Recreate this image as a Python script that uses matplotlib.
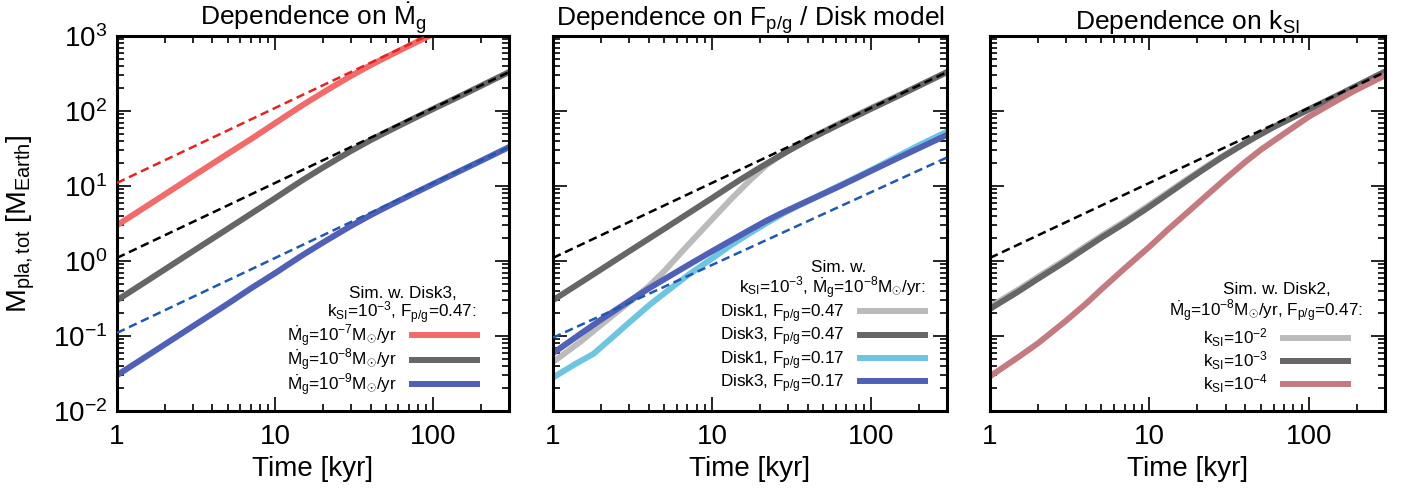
import matplotlib
matplotlib.use("Agg")
import matplotlib.pyplot as plt
from matplotlib.ticker import FuncFormatter

plt.rcParams.update({
    "font.family": "Liberation Sans",
    "mathtext.fontset": "custom",
    "mathtext.rm": "Liberation Sans",
    "mathtext.it": "Liberation Sans",
    "mathtext.sf": "Liberation Sans",
    "mathtext.bf": "Liberation Sans:bold",
    "axes.linewidth": 2.2,
    "lines.solid_joinstyle": "round",
})

# ---- values: Time [kyr] -> M_pla,tot [M_Earth] ----
t_ref = [1, 300]
ref_mdot7 = [11, 3300]
ref_mdot8 = [1.1, 330]
ref_mdot9 = [0.11, 33]
ref_d3_017 = [0.095, 24]

# panel 1: dependence on Mdot_g (Disk3, k_SI=1e-3, F_p/g=0.47)
t_p1 = [1, 1.5, 2, 3, 4, 5, 7, 10, 12, 15, 20, 25, 30, 40, 50, 70, 100, 150, 200, 300]
m_mdot7 = [3.0, 5.2, 7.7, 13.4, 19.8, 26.8, 42, 69, 89, 121, 176, 233, 292, 408, 520, 740, 1070]
m_mdot8 = [0.3, 0.52, 0.77, 1.34, 1.98, 2.68, 4.24, 6.9, 8.9, 12.1, 17.6, 23.3, 29.2, 40.8,
           52, 74, 107, 161, 217, 330]
m_mdot9 = [0.03, 0.052, 0.077, 0.134, 0.198, 0.268, 0.43, 0.69, 0.89, 1.21, 1.76, 2.33, 2.92,
           4.08, 5.2, 7.4, 10.7, 16.2, 21.7, 33]

# panel 2: dependence on F_p/g / disk model (k_SI=1e-3, Mdot_g=1e-8)
t_p2 = [1, 1.5, 2, 3, 4, 5, 7, 10, 13, 17, 22, 28, 35, 45, 60, 80, 100, 150, 200, 300]
m_d1_047 = [0.045, 0.085, 0.14, 0.28, 0.46, 0.73, 1.6, 3.6, 6.5, 11.5, 19, 27, 35.5, 47.5,
            65, 87, 110, 163, 218, 330]
m_d3_017 = [0.059, 0.108, 0.165, 0.29, 0.43, 0.57, 0.87, 1.35, 1.85, 2.55, 3.45, 4.45, 5.55,
            7.1, 9.4, 12.6, 15.9, 24, 32, 48]
t_d1_017 = [1, 1.4, 1.8, 2.2, 3, 4, 5, 7, 10, 13, 17, 22, 28, 35, 45, 60, 80, 100, 150, 200, 300]
m_d1_017 = [0.028, 0.043, 0.058, 0.084, 0.15, 0.255, 0.37, 0.64, 1.08, 1.6, 2.3, 3.2, 4.3,
            5.5, 7.1, 9.6, 12.9, 16.3, 25.5, 35, 53]

# panel 3: dependence on k_SI (Disk2, Mdot_g=1e-8, F_p/g=0.47)
t_p3 = [1, 1.5, 2, 3, 4, 5, 7, 10, 13, 17, 22, 28, 35, 45, 60, 80, 100, 150, 200, 300]
m_ksi2 = [0.245, 0.415, 0.615, 1.06, 1.59, 2.17, 3.38, 5.6, 8.2, 12.1, 17.4, 24.2, 32, 43.5,
          61, 83, 105, 160, 217, 335]
m_ksi3 = [0.23, 0.39, 0.58, 1.0, 1.5, 2.05, 3.2, 5.3, 7.8, 11.6, 16.8, 23.6, 31.5, 43.5, 61,
          83, 105, 160, 217, 335]
t_ksi4 = [1, 1.5, 2, 3, 4, 5, 7, 10, 13, 17, 23, 30, 40, 50, 70, 100, 130, 190, 250, 300]
m_ksi4 = [0.029, 0.052, 0.08, 0.16, 0.27, 0.42, 0.8, 1.55, 2.6, 4.3, 7.6, 12.5, 21, 30.5, 50,
          84, 116, 183, 245, 298]

C_RED, C_REDD = "#F26B6B", "#E82222"
C_DGRAY, C_LGRAY = "#666666", "#BBBBBB"
C_BLUE, C_BLUED = "#5060B4", "#2058B0"
C_CYAN, C_PINK = "#6EC5E0", "#C47B80"
LW, LWD = 4.3, 1.8
DASH = (0, (3.4, 1.9))

W, H = 1407, 490
AX_BOTTOM, AX_HEIGHT = 411, 375  # pixel rows of the x axis and axes height


def style(ax, ylab=False):
    ax.set_xscale("log")
    ax.set_yscale("log")
    ax.set_xlim(1, 300)
    ax.set_ylim(1e-2, 1e3)
    ax.tick_params(which="both", direction="in", top=True, right=True, width=1.2)
    ax.tick_params(which="major", length=10, labelsize=20)
    ax.tick_params(which="minor", length=5)
    ax.tick_params(axis="x", pad=9)
    ax.tick_params(axis="y", pad=7, labelleft=ylab)
    ax.xaxis.set_major_formatter(FuncFormatter(lambda v, p: f"{v:g}"))
    ax.set_xlabel("Time [kyr]", fontsize=20, labelpad=5)


def dashed(ax, y, color):
    ax.plot(t_ref, y, color=color, lw=LWD, ls=DASH, zorder=3)


def key(ax, left, width, header, x_end, y_last, spacing):
    """gnuplot-like key: centred two-line header, text right of which sits the sample."""
    for (px, py), line in header:
        ax.text((px - left) / width, (AX_BOTTOM - py) / AX_HEIGHT, line,
                transform=ax.transAxes, ha="center", va="center", fontsize=12.3)
    ax.legend(loc="lower right",
              bbox_to_anchor=((x_end - left) / width, (AX_BOTTOM - y_last) / AX_HEIGHT),
              markerfirst=False, frameon=False, fontsize=12.3, handlelength=3.8,
              handletextpad=0.9, labelspacing=spacing, borderaxespad=0, borderpad=0)


fig = plt.figure(figsize=(W / 100, H / 100), dpi=100)
ax1 = fig.add_axes([117 / W, 1 - AX_BOTTOM / H, 392 / W, AX_HEIGHT / H])
ax2 = fig.add_axes([553 / W, 1 - AX_BOTTOM / H, 394 / W, AX_HEIGHT / H])
ax3 = fig.add_axes([990 / W, 1 - AX_BOTTOM / H, 395 / W, AX_HEIGHT / H])

# panel 1
dashed(ax1, ref_mdot7, C_REDD)
dashed(ax1, ref_mdot8, "black")
dashed(ax1, ref_mdot9, C_BLUED)
ax1.plot(t_p1[:len(m_mdot7)], m_mdot7, color=C_RED, lw=LW,
         label=r"$\dot{M}_{\rm g}$=10$^{-7}$M$_{\odot}$/yr")
ax1.plot(t_p1, m_mdot8, color=C_DGRAY, lw=LW,
         label=r"$\dot{M}_{\rm g}$=10$^{-8}$M$_{\odot}$/yr")
ax1.plot(t_p1, m_mdot9, color=C_BLUE, lw=LW,
         label=r"$\dot{M}_{\rm g}$=10$^{-9}$M$_{\odot}$/yr")
style(ax1, ylab=True)
ax1.set_title(r"Dependence on $\dot{M}_{\rm g}$", fontsize=19, pad=3)
ax1.set_ylabel(r"M$_{\rm pla,tot}$ [M$_{\rm Earth}$]", fontsize=20.5)
ax1.yaxis.set_label_coords(-0.205, 0.5)
key(ax1, 117, 392,
    [((403, 293), "Sim. w. Disk3,"),
     ((402, 313), r"k$_{\rm SI}$=10$^{-3}$, F$_{\rm p/g}$=0.47:")],
    477, 398, -0.08)

# panel 2
dashed(ax2, ref_mdot8, "black")
dashed(ax2, ref_d3_017, C_BLUED)
ax2.plot(t_p2, m_d1_047, color=C_LGRAY, lw=LW, label=r"Disk1, F$_{\rm p/g}$=0.47")
ax2.plot(t_p1, m_mdot8, color=C_DGRAY, lw=LW, label=r"Disk3, F$_{\rm p/g}$=0.47")
ax2.plot(t_d1_017, m_d1_017, color=C_CYAN, lw=LW, label=r"Disk1, F$_{\rm p/g}$=0.17")
ax2.plot(t_p2, m_d3_017, color=C_BLUE, lw=LW, label=r"Disk3, F$_{\rm p/g}$=0.17")
style(ax2)
ax2.set_title(r"Dependence on F$_{\rm p/g}$ / Disk model", fontsize=19, pad=3)
key(ax2, 553, 394,
    [((839, 268), "Sim. w."),
     ((832, 288), r"k$_{\rm SI}$=10$^{-3}$, $\dot{M}_{\rm g}$=10$^{-8}$M$_{\odot}$/yr:")],
    925, 395, 0.04)

# panel 3
dashed(ax3, ref_mdot8, "black")
ax3.plot(t_p3, m_ksi2, color=C_LGRAY, lw=LW, label=r"k$_{\rm SI}$=10$^{-2}$")
ax3.plot(t_p3, m_ksi3, color=C_DGRAY, lw=LW, label=r"k$_{\rm SI}$=10$^{-3}$")
ax3.plot(t_ksi4, m_ksi4, color=C_PINK, lw=LW, label=r"k$_{\rm SI}$=10$^{-4}$")
style(ax3)
ax3.set_title(r"Dependence on k$_{\rm SI}$", fontsize=19, pad=3)
key(ax3, 990, 395,
    [((1277, 290), "Sim. w. Disk2,"),
     ((1266, 311), r"$\dot{M}_{\rm g}$=10$^{-8}$M$_{\odot}$/yr, F$_{\rm p/g}$=0.47:")],
    1348, 395, 0.01)

fig.savefig("out.png", dpi=100)
